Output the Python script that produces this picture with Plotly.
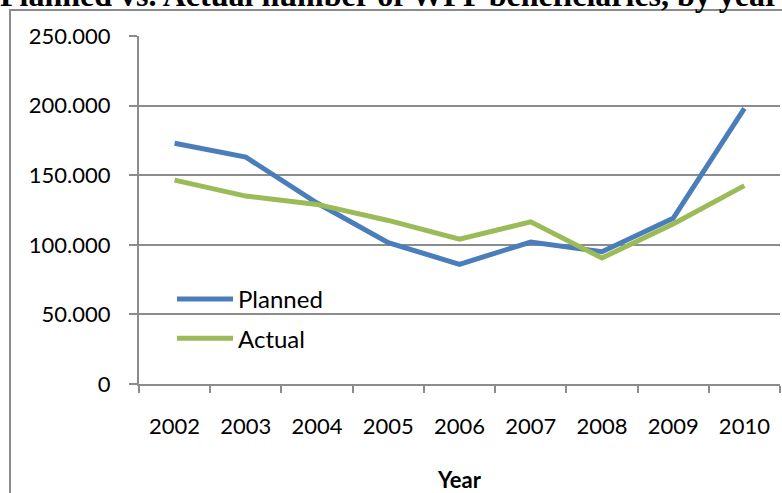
import plotly.graph_objects as go

years = ["2002", "2003", "2004", "2005", "2006", "2007", "2008", "2009", "2010"]
planned = [173000, 163000, 130000, 101500, 86000, 102000, 95000, 119000, 198000]
actual = [146500, 135000, 129000, 117500, 104000, 116500, 90500, 115000, 142500]
y_ticks = [0, 50000, 100000, 150000, 200000, 250000]
y_tick_labels = ["0", "50.000", "100.000", "150.000", "200.000", "250.000"]

W, H = 782, 493
ML, MR, MT, MB = 139, 2, 36, 109
pw, ph = W - ML - MR, H - MT - MB


def px_x(x):
    """Pixel column -> paper x."""
    return (x - ML) / pw


def px_y(y):
    """Pixel row -> paper y."""
    return (H - MB - y) / ph


font_main = "Lato, Calibri, sans-serif"
grey = "#8c8c8c"

fig = go.Figure()
fig.add_trace(go.Scatter(x=years, y=planned, mode="lines", name="Planned",
                         legendgroup="planned",
                         line=dict(color="#4A7EBB", width=5)))
fig.add_trace(go.Scatter(x=years, y=actual, mode="lines", name="Actual",
                         legendgroup="actual",
                         line=dict(color="#9BBB59", width=5)))

# outer chart frame
fig.add_shape(type="rect", xref="paper", yref="paper",
              x0=px_x(10), x1=px_x(W + 40), y0=px_y(H + 40), y1=px_y(10),
              line=dict(color=grey, width=2), fillcolor="rgba(0,0,0,0)",
              layer="below")
# white backing behind the legend, hides the gridline there
fig.add_shape(type="rect", xref="paper", yref="paper",
              x0=px_x(155), x1=px_x(347), y0=px_y(360), y1=px_y(276),
              line=dict(width=0), fillcolor="white", layer="between")

fig.add_annotation(text="<b>Planned vs. Actual number of WFP beneficiaries, by year</b>",
                   xref="paper", yref="paper", x=px_x(-2), xanchor="left",
                   y=px_y(15), yanchor="bottom", showarrow=False,
                   font=dict(family="Liberation Serif, Times New Roman, serif",
                             size=32, color="black"))

fig.update_layout(
    width=W, height=H,
    margin=dict(l=ML, r=MR, t=MT, b=MB),
    paper_bgcolor="white", plot_bgcolor="white",
    font=dict(family=font_main, size=22, color="black"),
    showlegend=True,
    legend=dict(x=px_x(172), y=px_y(277), xanchor="left", yanchor="top",
                bgcolor="rgba(0,0,0,0)", font=dict(size=24), itemwidth=56,
                tracegroupgap=5),
    xaxis=dict(type="category", tickson="boundaries", ticks="outside", ticklen=7,
               tickcolor=grey, tickwidth=2, showline=True, linecolor=grey,
               linewidth=2, showgrid=False, range=[-0.5, 8.5],
               ticklabelstandoff=22,
               title=dict(text="<b>Year</b>", font=dict(size=22), standoff=34)),
    yaxis=dict(range=[0, 250000], tickvals=y_ticks, ticktext=y_tick_labels,
               ticks="outside", ticklen=8, tickcolor=grey, tickwidth=2,
               ticklabelstandoff=14,
               showline=True, linecolor=grey, linewidth=2,
               showgrid=True, gridcolor=grey, gridwidth=2, zeroline=False),
)

fig.write_html("out.html")
